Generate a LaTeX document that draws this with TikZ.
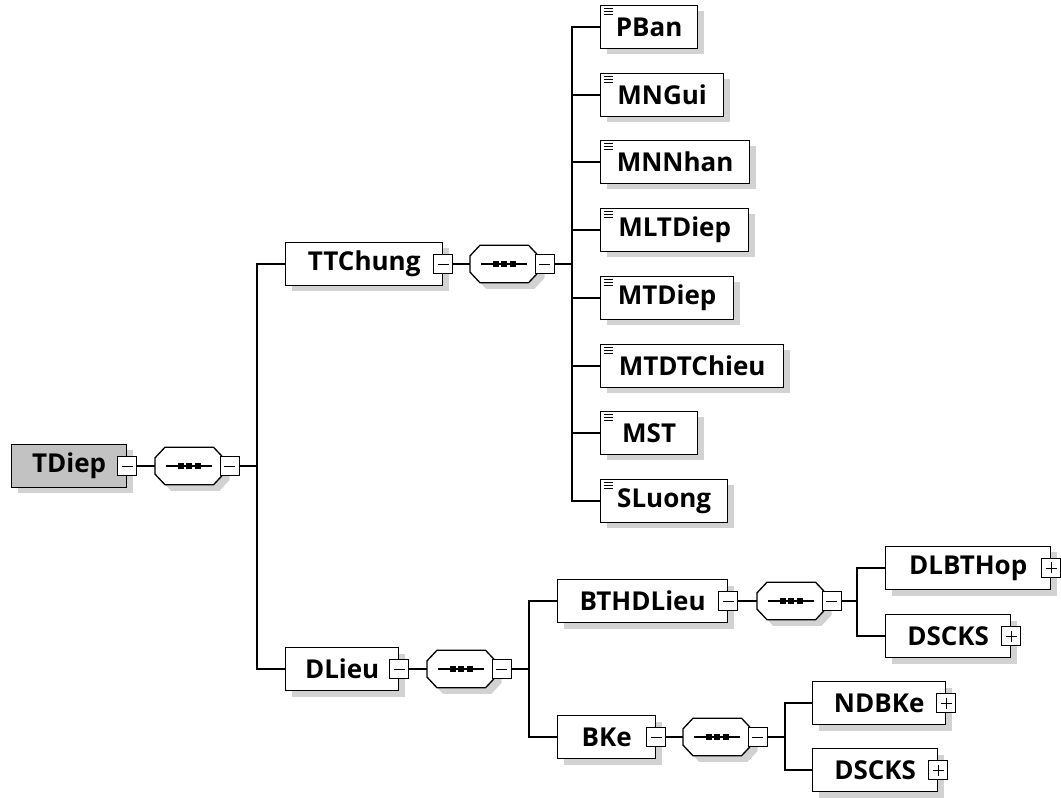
\documentclass[tikz,border=0pt]{standalone}
\usepackage{fontspec}
\setmainfont{Open Sans}
\usetikzlibrary{positioning,calc,shadows}
\definecolor{rootfill}{HTML}{C2C2C2}
\definecolor{shade}{HTML}{D2D2D2}
\tikzset{
  elem/.style={draw,line width=1pt,fill=white,minimum height=32.25pt,inner sep=0pt,
    anchor=west,font=\fontsize{19.5}{22}\selectfont\bfseries,
    drop shadow={shadow xshift=4.5pt,shadow yshift=-4.5pt,fill=shade,opacity=1}},
  boxw/.style={minimum width=#1*0.75pt},
  root/.style={elem,fill=rootfill},
  leaf/.style={elem,path picture={
      \foreach \k in {2.4,4.6,6.8}
        \draw[line width=0.8pt] ([xshift=2.4pt,yshift=-\k pt]path picture bounding box.north west) -- ++(6.5pt,0pt);}},
  tog/.style={draw,line width=0.8pt,fill=white,minimum size=14.25pt,inner sep=0pt},
  minus/.style={tog,path picture={
      \draw[line width=0.7pt] ([xshift=3pt]path picture bounding box.west) -- ([xshift=-3pt]path picture bounding box.east);}},
  plus/.style={tog,path picture={
      \draw[line width=0.7pt] ([xshift=3pt]path picture bounding box.west) -- ([xshift=-3pt]path picture bounding box.east);
      \draw[line width=0.7pt] ([yshift=-3pt]path picture bounding box.north) -- ([yshift=3pt]path picture bounding box.south);}},
  seqhold/.style={minimum width=51pt,minimum height=27.75pt,inner sep=0pt,anchor=west},
  seqshape/.style={draw,line width=1pt,fill=white,
    drop shadow={shadow xshift=4.5pt,shadow yshift=-4.5pt,fill=shade,opacity=1}},
  link/.style={line width=1pt},
}
% sequence compositor: octagon, dotted bar and its collapse box
\newcommand{\seqbox}[2]{%
  \node[seqhold] (#1) at (#2) {};
  \path[seqshape] ([xshift=7.5pt]#1.north west) -- ([xshift=-7.5pt]#1.north east)
    -- ([yshift=-8pt]#1.north east) -- ([yshift=8pt]#1.south east)
    -- ([xshift=-7.5pt]#1.south east) -- ([xshift=7.5pt]#1.south west)
    -- ([yshift=8pt]#1.south west) -- ([yshift=-8pt]#1.north west) -- cycle;
  \draw[line width=0.8pt] ([xshift=8.25pt]#1.west) -- ([xshift=-9pt]#1.east);
  \foreach \d in {-6.5,0,6.5}
    \fill ([xshift=\d pt]#1.center) +(-2.2pt,-2.2pt) rectangle +(2.2pt,2.2pt);
  \node[minus] (#1m) at ($(#1.east)+(6,0)$) {};
}

\begin{document}
\begin{tikzpicture}[x=0.75pt,y=-0.75pt]
  \useasboundingbox (0,0) rectangle (1061,798);
  % root and its sequence
  \node[root,boxw=115] (tdiep) at (11,466) {TDiep};
  \node[minus] (tdiepm) at (tdiep.east) {};
  \seqbox{s0}{155,466}
  \coordinate (j0) at (257,466);
  % TTChung branch
  \node[elem,boxw=157] (ttchung) at (285,264) {TTChung};
  \node[minus] (ttchungm) at (ttchung.east) {};
  \seqbox{s1}{470,264}
  \coordinate (j1) at (572,264);
  \foreach \nm/\txt/\w/\y in {pban/PBan/97/27,mngui/MNGui/123/95,mnnhan/MNNhan/149/162,
      mltdiep/MLTDiep/148/230,mtdiep/MTDiep/133/298,mtdtchieu/MTDTChieu/183/366,
      mst/MST/97/433,sluong/SLuong/127/501}
    \node[leaf,boxw=\w] (\nm) at (600,\y) {\txt};
  % DLieu branch
  \node[elem,boxw=113] (dlieu) at (285,669) {DLieu};
  \node[minus] (dlieum) at (dlieu.east) {};
  \seqbox{s2}{427,669}
  \coordinate (j2) at (529,669);
  \node[elem,boxw=170] (bthdlieu) at (557,601) {BTHDLieu};
  \node[minus] (bthdlieum) at (bthdlieu.east) {};
  \seqbox{s3}{757,601}
  \coordinate (j3) at (857,601);
  \node[elem,boxw=165] (dlbthop) at (885,568) {DLBTHop};
  \node[plus] (dlbthopp) at (dlbthop.east) {};
  \node[elem,boxw=125] (dscksa) at (885,636) {DSCKS};
  \node[plus] (dscksap) at (dscksa.east) {};
  \node[elem,boxw=98] (bke) at (557,737) {BKe};
  \node[minus] (bkem) at (bke.east) {};
  \seqbox{s4}{683,737}
  \coordinate (j4) at (785,737);
  \node[elem,boxw=133] (ndbke) at (812,703) {NDBKe};
  \node[plus] (ndbkep) at (ndbke.east) {};
  \node[elem,boxw=125] (dscksb) at (812,770) {DSCKS};
  \node[plus] (dscksbp) at (dscksb.east) {};
  % connectors
  \draw[link] (tdiepm.east) -- (s0.west);
  \draw[link] (s0m.east) -- (j0);
  \draw[link] (ttchung.west) -| (j0) |- (dlieu.west);
  \draw[link] (ttchungm.east) -- (s1.west);
  \draw[link] (s1m.east) -- (j1);
  \draw[link] (pban.west) -| (j1) |- (sluong.west);
  \foreach \nm in {mngui,mnnhan,mltdiep,mtdiep,mtdtchieu,mst}
    \draw[link] (\nm.west) -- (\nm.west -| j1);
  \draw[link] (dlieum.east) -- (s2.west);
  \draw[link] (s2m.east) -- (j2);
  \draw[link] (bthdlieu.west) -| (j2) |- (bke.west);
  \draw[link] (bthdlieum.east) -- (s3.west);
  \draw[link] (s3m.east) -- (j3);
  \draw[link] (dlbthop.west) -| (j3) |- (dscksa.west);
  \draw[link] (bkem.east) -- (s4.west);
  \draw[link] (s4m.east) -- (j4);
  \draw[link] (ndbke.west) -| (j4) |- (dscksb.west);
\end{tikzpicture}
\end{document}
